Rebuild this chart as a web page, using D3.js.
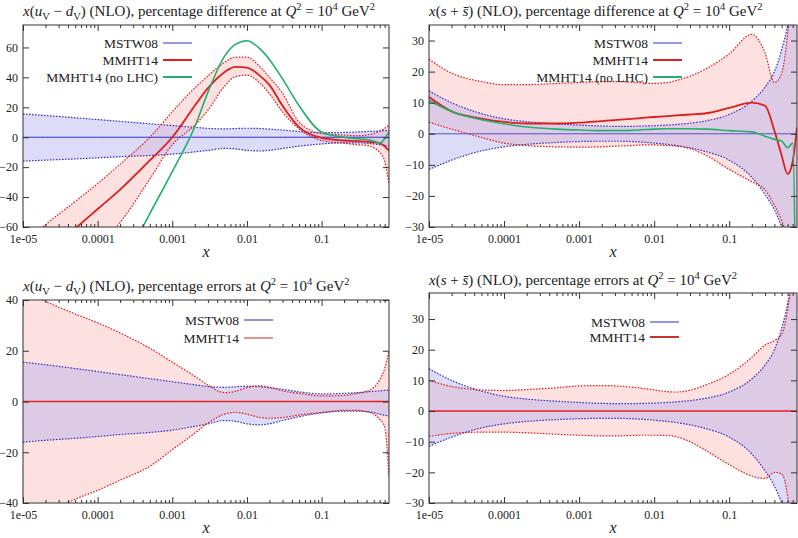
<!DOCTYPE html>
<html><head><meta charset="utf-8">
<script src="https://cdn.jsdelivr.net/npm/d3@7"></script>
<style>
body{margin:0;background:#fff}
text{font-family:"Liberation Serif","DejaVu Serif",serif;fill:#222}
</style></head><body>
<svg id="chart" width="798" height="538"></svg>
<script>
// x grid shared by all curves
var xGrid=[1e-5,2e-5,5e-5,1e-4,2e-4,5e-4,1e-3,2e-3,3e-3,5e-3,7e-3,1e-2,1.5e-2,2e-2,3e-2,5e-2,0.1,0.2,0.3,0.4,0.5,0.6,0.7,0.8];
var xTickVals=[1e-5,1e-4,1e-3,1e-2,0.1];
var xTickLabels=["1e-05","0.0001","0.001","0.01","0.1"];

// x(uV-dV): MSTW08 band (same in difference and error plots)
var uvdvMstwUp=[15.5,14.5,13,11.8,10.6,9.0,7.8,6.6,5.9,5.6,5.8,6.0,5.8,5.4,4.8,3.8,3.0,3.2,3.5,3.8,4.0,4.2,4.4,4.5];
var uvdvMstwDn=[-16,-15.3,-14.5,-13.8,-13,-12.2,-11.3,-9.8,-8.8,-7.5,-7.8,-8.8,-9.2,-8.8,-7.5,-6.0,-4.5,-3.8,-3.8,-4.0,-4.4,-5.0,-5.4,-5.8];
// x(uV-dV): MMHT14 difference, band and no-LHC
var uvdvMmht=[-93,-78,-61,-48,-35,-15.5,0,21,32.8,43.5,47,46.5,41,35,21,6.7,-0.5,-2.2,-2.6,-3,-3.4,-4,-6,-9];
var uvdvMmhtUp=[-72,-58.5,-43,-31,-18,0,17,33,41,50,53.5,53.5,47,40,29.5,10,2.5,1.5,1,1.5,2.5,4,6,8];
var uvdvMmhtDn=[-120,-105,-92,-74,-57,-28,-5,8,18,34,40.5,41.5,36,29,17,5.5,-2.2,-4,-5,-5.5,-7,-10,-16,-31];
var uvdvNoLhc=[-200,-180,-140,-115,-89,-51,-23,7,30,54,62,64.5,59,52,39,21,3.5,0,-1,-1.5,-2.5,-4,-1,3.5];
// x(uV-dV): MMHT14 errors
var uvdvErrMmhtUp=[44,39.5,34.5,31,27,21,15.5,10,6.5,3.5,4,5.5,6.2,5.7,4.2,3.2,2.2,2.4,3.2,4,5.5,8.5,13,20];
var uvdvErrMmhtDn=[-49,-44.5,-38.5,-35,-31,-25.5,-19,-12.5,-8.5,-5,-4.3,-5,-6.3,-6.6,-6.3,-5.3,-4.3,-3.5,-3.5,-4,-5,-7,-10,-30];

// x(s+sbar): MSTW08 band
var ssMstwUp=[13.8,10,6.5,4.8,3.9,3.2,2.8,2.5,2.4,2.4,2.5,2.6,2.8,3.0,3.4,4.2,6.2,10.5,15,20,27,35,45,55];
var ssMstwDn=[-11.5,-8.5,-5.5,-4.2,-3.4,-2.8,-2.5,-2.4,-2.4,-2.5,-2.7,-3.0,-3.4,-3.8,-4.5,-5.8,-8.5,-14,-19.5,-24.5,-30,-36,-45,-55];
// x(s+sbar): MMHT14 difference, band and no-LHC
var ssMmht=[11.8,7.2,4.9,3.8,3.3,3.3,3.6,4.1,4.4,4.8,5.1,5.4,5.7,5.9,6.2,6.6,8.3,10.0,9.0,1.0,-7,-13,-9,2];
var ssMmhtUp=[24,19.5,16.8,15.8,15.8,16.2,16.5,16.8,16.8,16.6,16.4,16.2,16.5,17.2,18.5,21,25.7,32,26,16.5,19.5,32,50,70];
var ssMmhtDn=[3.7,1.5,-1.2,-3,-3.8,-4.2,-4.3,-4.2,-4.0,-3.8,-3.6,-3.6,-3.8,-4.0,-4.8,-7,-11.5,-15.5,-18,-23,-28,-34,-45,-60];
var ssNoLhc=[10.7,7.2,4.5,3.2,2.2,1.5,1.2,1.0,1.0,1.1,1.3,1.5,1.6,1.6,1.6,1.5,1.0,0.6,-0.8,-1.8,-2.3,-4.5,-3,-100];
// x(s+sbar): MMHT14 errors
var ssErrMmhtUp=[10,8,6.9,6.7,7.0,7.6,8.2,8.3,8.2,7.8,7.4,6.9,6.3,6.2,6.8,8.6,12,17.5,21.5,23,25,33,45,60];
var ssErrMmhtDn=[-8.3,-7.3,-6.9,-6.9,-7.1,-7.6,-7.9,-8.1,-8.1,-8.0,-7.9,-7.9,-8.0,-8.4,-10,-13,-17.5,-21.2,-22,-20,-20.5,-28,-45,-60];
var zeros=xGrid.map(function(){return 0;});

var BLUE="#3333c4", RED="#dc1e1e", GREEN="#22b06a";

var svg=d3.select("#chart");

function drawTitle(x0,y0,parts){
  var t=svg.append("text").attr("x",x0).attr("y",y0).attr("font-size",15);
  var shift=0;
  parts.forEach(function(p){
    var target=p[1]=="sub"?3.5:(p[1]=="sup"?-6:0);
    var ts=t.append("tspan").text(p[0]).attr("dy",target-shift);
    shift=target;
    if(p[1]=="i") ts.attr("font-style","italic");
    if(p[1]=="sub"||p[1]=="sup") ts.attr("font-size",10.5);
  });
}

function panel(cfg){
  var x=d3.scaleLog().domain([1e-5,0.8]).range([cfg.left,cfg.right]);
  var y=d3.scaleLinear().domain(cfg.yDomain).range([cfg.bottom,cfg.top]);
  var g=svg.append("g");
  var cid="clip"+cfg.id;
  g.append("clipPath").attr("id",cid).append("rect")
   .attr("x",cfg.left).attr("y",cfg.top).attr("width",cfg.right-cfg.left).attr("height",cfg.bottom-cfg.top);

  var area=function(up,dn){
    return d3.area().curve(d3.curveMonotoneX)
      .x(function(d,i){return x(xGrid[i]);})
      .y0(function(d,i){return y(dn[i]);})
      .y1(function(d,i){return y(up[i]);})(xGrid);
  };
  var line=function(v){
    return d3.line().curve(d3.curveMonotoneX)
      .x(function(d,i){return x(xGrid[i]);})
      .y(function(d){return y(d);})(v);
  };

  var plot=g.append("g").attr("clip-path","url(#"+cid+")");
  plot.append("path").attr("d",area(cfg.bUp,cfg.bDn)).attr("fill","#dcdcf8");
  plot.append("path").attr("d",area(cfg.rUp,cfg.rDn)).attr("fill","#fde0e0");
  g.append("clipPath").attr("id",cid+"r").append("path").attr("d",area(cfg.rUp,cfg.rDn));
  plot.append("g").attr("clip-path","url(#"+cid+"r)")
    .append("path").attr("d",area(cfg.bUp,cfg.bDn)).attr("fill","#ddcbe6");

  [cfg.bUp,cfg.bDn].forEach(function(v){
    plot.append("path").attr("d",line(v)).attr("fill","none").attr("stroke",BLUE)
      .attr("stroke-width",1.2).attr("stroke-dasharray","1.6,1.4");
  });
  [cfg.rUp,cfg.rDn].forEach(function(v){
    plot.append("path").attr("d",line(v)).attr("fill","none").attr("stroke",RED)
      .attr("stroke-width",1.2).attr("stroke-dasharray","1.6,1.4");
  });
  cfg.lines.forEach(function(l){
    plot.append("path").attr("d",line(l.v)).attr("fill","none").attr("stroke",l.c).attr("stroke-width",l.w);
  });

  // axes
  var minors=[];
  for(var e=-5;e<0;e++) for(var k=2;k<=9;k++){var mv=k*Math.pow(10,e); if(mv<0.8) minors.push(mv);}
  var style=function(a){
    a.attr("font-family","Liberation Serif, serif").attr("font-size",12).attr("color","#222");
    a.select(".domain").remove();
    a.selectAll("line").attr("stroke","#333");
  };
  g.append("g").attr("transform","translate(0,"+cfg.bottom+")")
    .call(d3.axisBottom(x).tickValues(xTickVals).tickFormat(function(d,i){return xTickLabels[i];}).tickSize(-6).tickPadding(7)).call(style);
  g.append("g").attr("transform","translate(0,"+cfg.bottom+")")
    .call(d3.axisBottom(x).tickValues(minors).tickFormat("").tickSize(-3)).call(style);
  g.append("g").attr("transform","translate(0,"+cfg.top+")")
    .call(d3.axisTop(x).tickValues(xTickVals).tickFormat("").tickSize(-6)).call(style);
  g.append("g").attr("transform","translate(0,"+cfg.top+")")
    .call(d3.axisTop(x).tickValues(minors).tickFormat("").tickSize(-3)).call(style);
  g.append("g").attr("transform","translate("+cfg.left+",0)")
    .call(d3.axisLeft(y).tickValues(cfg.yTicks).tickSize(-6).tickPadding(5)).call(style);
  g.append("g").attr("transform","translate("+cfg.right+",0)")
    .call(d3.axisRight(y).tickValues(cfg.yTicks).tickFormat("").tickSize(-6)).call(style);
  g.append("rect").attr("x",cfg.left).attr("y",cfg.top).attr("width",cfg.right-cfg.left)
    .attr("height",cfg.bottom-cfg.top).attr("fill","none").attr("stroke","#333");

  g.append("text").attr("x",(cfg.left+cfg.right)/2).attr("y",cfg.bottom+30)
    .attr("text-anchor","middle").attr("font-style","italic").attr("font-size",16).text("x");

  // legend
  cfg.legend.forEach(function(l,i){
    var yy=cfg.legY[i];
    g.append("text").attr("x",cfg.legX).attr("y",yy).attr("dy","0.35em")
      .attr("text-anchor","end").attr("font-size",13.5).text(l.t);
    g.append("line").attr("x1",cfg.legX+5).attr("x2",cfg.legX+34).attr("y1",yy).attr("y2",yy)
      .attr("stroke",l.c).attr("stroke-width",l.w);
  });
}

drawTitle(23,16,[["x","i"],["(",""],["u","i"],["V","sub"],[" − ",""],["d","i"],["V","sub"],[") (NLO), percentage difference at ",""],["Q","i"],["2","sup"],[" = 10",""],["4","sup"],[" GeV",""],["2","sup"]]);
drawTitle(429,16,[["x","i"],["(",""],["s","i"],[" + ",""],["s\u0304","i"],[") (NLO), percentage difference at ",""],["Q","i"],["2","sup"],[" = 10",""],["4","sup"],[" GeV",""],["2","sup"]]);
drawTitle(23,291,[["x","i"],["(",""],["u","i"],["V","sub"],[" − ",""],["d","i"],["V","sub"],[") (NLO), percentage errors at ",""],["Q","i"],["2","sup"],[" = 10",""],["4","sup"],[" GeV",""],["2","sup"]]);
drawTitle(429,285,[["x","i"],["(",""],["s","i"],[" + ",""],["s\u0304","i"],[") (NLO), percentage errors at ",""],["Q","i"],["2","sup"],[" = 10",""],["4","sup"],[" GeV",""],["2","sup"]]);

panel({id:1,left:23,right:389,top:25,bottom:227,yDomain:[-60,75],yTicks:[-60,-40,-20,0,20,40,60],
  bUp:uvdvMstwUp,bDn:uvdvMstwDn,rUp:uvdvMmhtUp,rDn:uvdvMmhtDn,
  lines:[{v:zeros,c:BLUE,w:1},{v:uvdvMmht,c:RED,w:1.8},{v:uvdvNoLhc,c:GREEN,w:1.6}],
  legX:158,legY:[43,60,77],
  legend:[{t:"MSTW08",c:BLUE,w:1},{t:"MMHT14",c:RED,w:2},{t:"MMHT14 (no LHC)",c:GREEN,w:2}]});
panel({id:2,left:429,right:797,top:25,bottom:227,yDomain:[-30,35],yTicks:[-30,-20,-10,0,10,20,30],
  bUp:ssMstwUp,bDn:ssMstwDn,rUp:ssMmhtUp,rDn:ssMmhtDn,
  lines:[{v:zeros,c:"#5a4ccc",w:1},{v:ssMmht,c:RED,w:1.8},{v:ssNoLhc,c:GREEN,w:1.6}],
  legX:648,legY:[43,60,77],
  legend:[{t:"MSTW08",c:BLUE,w:1},{t:"MMHT14",c:RED,w:2},{t:"MMHT14 (no LHC)",c:GREEN,w:2}]});
panel({id:3,left:23,right:389,top:300,bottom:503,yDomain:[-40,40],yTicks:[-40,-20,0,20,40],
  bUp:uvdvMstwUp,bDn:uvdvMstwDn,rUp:uvdvErrMmhtUp,rDn:uvdvErrMmhtDn,
  lines:[{v:zeros,c:"#e52020",w:1.3}],
  legX:239,legY:[320,338],
  legend:[{t:"MSTW08",c:"#6c6ce0",w:1.5},{t:"MMHT14",c:"#e06c6c",w:1.5}]});
panel({id:4,left:429,right:797,top:293,bottom:503,yDomain:[-30,38.5],yTicks:[-30,-20,-10,0,10,20,30],
  bUp:ssMstwUp,bDn:ssMstwDn,rUp:ssErrMmhtUp,rDn:ssErrMmhtDn,
  lines:[{v:zeros,c:"#e52020",w:1.5}],
  legX:645,legY:[322,337],
  legend:[{t:"MSTW08",c:"#7070e0",w:1.5},{t:"MMHT14",c:"#cc3030",w:2}]});
</script>
</body></html>
